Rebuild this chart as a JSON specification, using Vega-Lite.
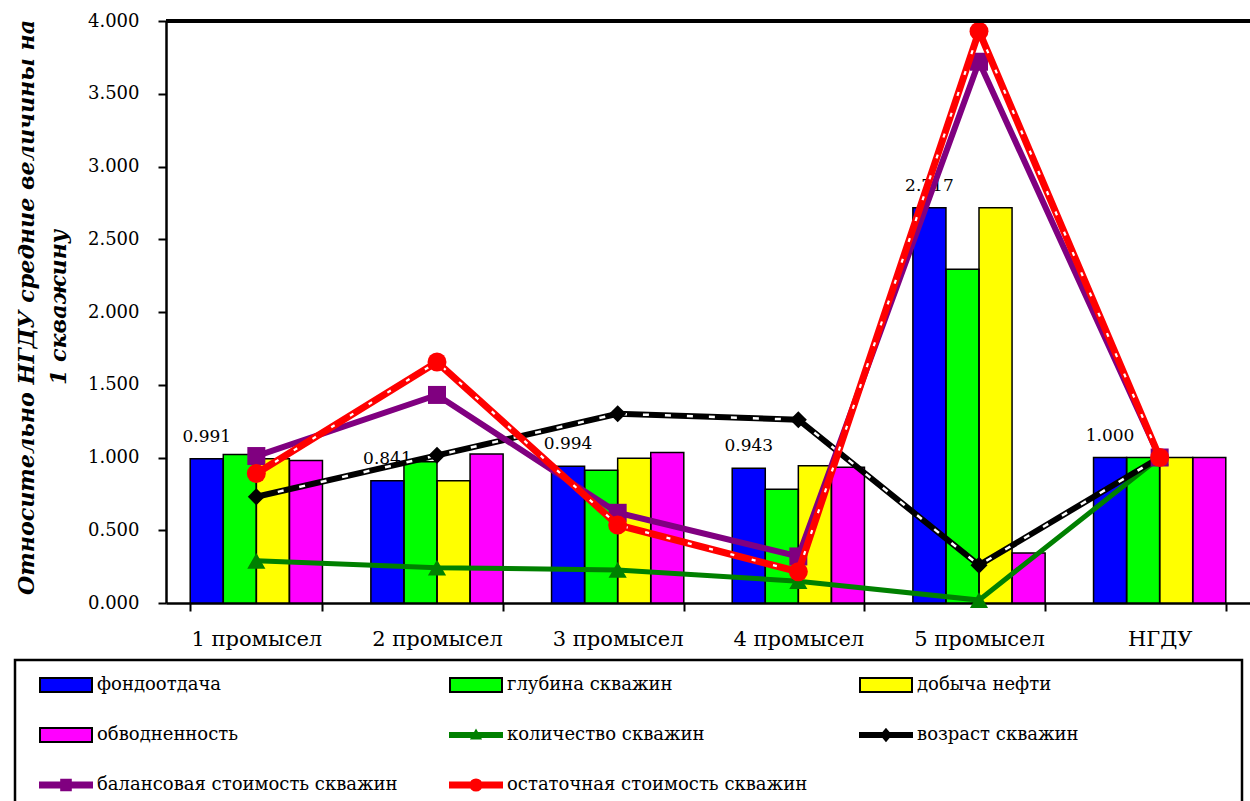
{
  "$schema": "https://vega.github.io/schema/vega-lite/v6.json",
  "width": 1084,
  "height": 582,
  "autosize": {"type": "none"},
  "padding": {"left": 166, "top": 21, "right": 0, "bottom": 198},
  "background": "white",
  "config": {
    "view": {"stroke": null},
    "font": "DejaVu Serif",
    "axisX": {
      "title": null,
      "labelFont": "DejaVu Serif",
      "labelFontSize": 21,
      "labelColor": "black",
      "labelAngle": 0,
      "labelPadding": 17,
      "tickBand": "extent",
      "tickSize": 8,
      "tickWidth": 2,
      "tickColor": "black",
      "domainColor": "black",
      "domainWidth": 2.5,
      "grid": false
    },
    "axisY": {
      "labelFont": "DejaVu Serif",
      "labelFontSize": 18,
      "labelColor": "black",
      "labelPadding": 19,
      "tickSize": 8,
      "tickWidth": 2,
      "tickColor": "black",
      "domainColor": "black",
      "domainWidth": 2.5,
      "grid": false
    },
    "legend": {
      "orient": "none",
      "legendX": -151,
      "legendY": 639,
      "direction": "horizontal",
      "columns": 3,
      "gridAlign": "all",
      "columnPadding": 35,
      "rowPadding": 28,
      "padding": 16,
      "strokeColor": "black",
      "strokeWidth": 2.5,
      "fillColor": "white",
      "symbolSize": 256,
      "symbolStrokeWidth": 2,
      "symbolOpacity": 1,
      "labelFont": "DejaVu Serif",
      "labelFontSize": 18,
      "labelColor": "black",
      "labelOffset": 48,
      "labelLimit": 500
    }
  },
  "data": {
    "values": [
      {"cat": "1 промысел", "series": "фондоотдача", "value": 0.991, "label": "0.991"},
      {"cat": "1 промысел", "series": "глубина скважин", "value": 1.02},
      {"cat": "1 промысел", "series": "добыча нефти", "value": 0.991},
      {"cat": "1 промысел", "series": "обводненность", "value": 0.98},
      {"cat": "1 промысел", "series": "количество скважин", "value": 0.29},
      {"cat": "1 промысел", "series": "возраст скважин", "value": 0.73},
      {"cat": "1 промысел", "series": "балансовая стоимость скважин", "value": 1.01},
      {"cat": "1 промысел", "series": "остаточная стоимость скважин", "value": 0.89},

      {"cat": "2 промысел", "series": "фондоотдача", "value": 0.841, "label": "0.841"},
      {"cat": "2 промысел", "series": "глубина скважин", "value": 0.97},
      {"cat": "2 промысел", "series": "добыча нефти", "value": 0.841},
      {"cat": "2 промысел", "series": "обводненность", "value": 1.024},
      {"cat": "2 промысел", "series": "количество скважин", "value": 0.243},
      {"cat": "2 промысел", "series": "возраст скважин", "value": 1.015},
      {"cat": "2 промысел", "series": "балансовая стоимость скважин", "value": 1.43},
      {"cat": "2 промысел", "series": "остаточная стоимость скважин", "value": 1.656},

      {"cat": "3 промысел", "series": "фондоотдача", "value": 0.94, "label": "0.994"},
      {"cat": "3 промысел", "series": "глубина скважин", "value": 0.913},
      {"cat": "3 промысел", "series": "добыча нефти", "value": 0.994},
      {"cat": "3 промысел", "series": "обводненность", "value": 1.035},
      {"cat": "3 промысел", "series": "количество скважин", "value": 0.227},
      {"cat": "3 промысел", "series": "возраст скважин", "value": 1.3},
      {"cat": "3 промысел", "series": "балансовая стоимость скважин", "value": 0.62},
      {"cat": "3 промысел", "series": "остаточная стоимость скважин", "value": 0.536},

      {"cat": "4 промысел", "series": "фондоотдача", "value": 0.926, "label": "0.943"},
      {"cat": "4 промысел", "series": "глубина скважин", "value": 0.781},
      {"cat": "4 промысел", "series": "добыча нефти", "value": 0.943},
      {"cat": "4 промысел", "series": "обводненность", "value": 0.933},
      {"cat": "4 промысел", "series": "количество скважин", "value": 0.15},
      {"cat": "4 промысел", "series": "возраст скважин", "value": 1.26},
      {"cat": "4 промысел", "series": "балансовая стоимость скважин", "value": 0.32},
      {"cat": "4 промысел", "series": "остаточная стоимость скважин", "value": 0.215},

      {"cat": "5 промысел", "series": "фондоотдача", "value": 2.717, "label": "2.717"},
      {"cat": "5 промысел", "series": "глубина скважин", "value": 2.293},
      {"cat": "5 промысел", "series": "добыча нефти", "value": 2.717},
      {"cat": "5 промысел", "series": "обводненность", "value": 0.343},
      {"cat": "5 промысел", "series": "количество скважин", "value": 0.02},
      {"cat": "5 промысел", "series": "возраст скважин", "value": 0.26},
      {"cat": "5 промысел", "series": "балансовая стоимость скважин", "value": 3.72},
      {"cat": "5 промысел", "series": "остаточная стоимость скважин", "value": 3.93},

      {"cat": "НГДУ", "series": "фондоотдача", "value": 1.0, "label": "1.000"},
      {"cat": "НГДУ", "series": "глубина скважин", "value": 1.0},
      {"cat": "НГДУ", "series": "добыча нефти", "value": 1.0},
      {"cat": "НГДУ", "series": "обводненность", "value": 1.0},
      {"cat": "НГДУ", "series": "количество скважин", "value": 1.0},
      {"cat": "НГДУ", "series": "возраст скважин", "value": 1.0},
      {"cat": "НГДУ", "series": "балансовая стоимость скважин", "value": 1.0},
      {"cat": "НГДУ", "series": "остаточная стоимость скважин", "value": 1.0}
    ]
  },
  "encoding": {
    "y": {
      "field": "value",
      "type": "quantitative",
      "scale": {"domain": [0, 4], "nice": false, "zero": true},
      "title": ["Относительно  НГДУ средние величины  на", "1 скважину"],
      "axis": {
        "values": [0, 0.5, 1, 1.5, 2, 2.5, 3, 3.5, 4],
        "format": ".3f",
        "titleFont": "DejaVu Serif",
        "titleFontSize": 22.2,
        "titleFontWeight": "bold",
        "titleFontStyle": "italic",
        "titleColor": "black",
        "titleAngle": 270,
        "titleAlign": "center",
        "titleBaseline": "alphabetic",
        "titleLineHeight": 32,
        "titleX": -133,
        "titleY": 286
      }
    }
  },
  "layer": [
    {
      "transform": [{"filter": {"field": "series", "oneOf": ["фондоотдача", "глубина скважин", "добыча нефти", "обводненность"]}}],
      "mark": {"type": "bar"},
      "encoding": {
        "x": {"field": "cat", "type": "nominal", "sort": null, "title": null,
              "scale": {"paddingInner": 0.268, "paddingOuter": 0.134}},
        "xOffset": {"field": "series", "type": "nominal",
                    "scale": {"domain": ["фондоотдача", "глубина скважин", "добыча нефти", "обводненность"], "paddingInner": 0, "paddingOuter": 0}},
        "color": {
          "field": "series",
          "type": "nominal",
          "scale": {
            "domain": ["фондоотдача", "глубина скважин", "добыча нефти", "обводненность", "количество скважин", "возраст скважин", "балансовая стоимость скважин", "остаточная стоимость скважин"],
            "range": ["#0000FF", "#00FF00", "#FFFF00", "#FF00FF", "#008000", "#000000", "#800080", "#FF0000"]
          },
          "legend": {"title": null}
        }
      }
    },
    {
      "transform": [{"filter": {"field": "series", "oneOf": ["фондоотдача", "глубина скважин", "добыча нефти", "обводненность"]}}],
      "mark": {"type": "bar", "fill": "transparent", "stroke": "black", "strokeWidth": 1.5},
      "encoding": {
        "x": {"field": "cat", "type": "nominal", "sort": null, "title": null},
        "xOffset": {"field": "series", "type": "nominal"}
      }
    },
    {
      "transform": [{"filter": {"field": "series", "equal": "фондоотдача"}}],
      "mark": {"type": "text", "font": "DejaVu Serif", "fontSize": 17, "color": "black", "baseline": "middle", "align": "center", "dy": -22},
      "encoding": {
        "x": {"field": "cat", "type": "nominal", "sort": null, "title": null},
        "xOffset": {"field": "series", "type": "nominal"},
        "text": {"field": "label"}
      }
    },
    {
      "transform": [{"filter": {"field": "series", "equal": "количество скважин"}}],
      "mark": {"type": "line", "color": "#008000", "strokeWidth": 5},
      "encoding": {"x": {"field": "cat", "type": "nominal", "sort": null, "title": null}}
    },
    {
      "transform": [{"filter": {"field": "series", "equal": "количество скважин"}}],
      "mark": {"type": "point", "shape": "triangle-up", "size": 330, "filled": true, "color": "#008000", "opacity": 1},
      "encoding": {"x": {"field": "cat", "type": "nominal", "sort": null, "title": null}}
    },
    {
      "transform": [{"filter": {"field": "series", "equal": "возраст скважин"}}],
      "mark": {"type": "line", "color": "#000000", "strokeWidth": 6},
      "encoding": {"x": {"field": "cat", "type": "nominal", "sort": null, "title": null}}
    },
    {
      "transform": [{"filter": {"field": "series", "equal": "возраст скважин"}}],
      "mark": {"type": "line", "color": "#FFFFFF", "strokeWidth": 2.5, "strokeDash": [6, 16]},
      "encoding": {"x": {"field": "cat", "type": "nominal", "sort": null, "title": null}}
    },
    {
      "transform": [{"filter": {"field": "series", "equal": "возраст скважин"}}],
      "mark": {"type": "point", "shape": "diamond", "size": 290, "filled": true, "color": "#000000", "opacity": 1},
      "encoding": {"x": {"field": "cat", "type": "nominal", "sort": null, "title": null}}
    },
    {
      "transform": [{"filter": {"field": "series", "equal": "балансовая стоимость скважин"}}],
      "mark": {"type": "line", "color": "#800080", "strokeWidth": 6},
      "encoding": {"x": {"field": "cat", "type": "nominal", "sort": null, "title": null}}
    },
    {
      "transform": [{"filter": {"field": "series", "equal": "балансовая стоимость скважин"}}],
      "mark": {"type": "point", "shape": "square", "size": 324, "filled": true, "color": "#800080", "opacity": 1},
      "encoding": {"x": {"field": "cat", "type": "nominal", "sort": null, "title": null}}
    },
    {
      "transform": [{"filter": {"field": "series", "equal": "остаточная стоимость скважин"}}],
      "mark": {"type": "line", "color": "#FF0000", "strokeWidth": 7},
      "encoding": {"x": {"field": "cat", "type": "nominal", "sort": null, "title": null}}
    },
    {
      "transform": [{"filter": {"field": "series", "equal": "остаточная стоимость скважин"}}],
      "mark": {"type": "line", "color": "#FFFFFF", "strokeWidth": 2.2, "strokeDash": [4, 18]},
      "encoding": {"x": {"field": "cat", "type": "nominal", "sort": null, "title": null}}
    },
    {
      "transform": [{"filter": {"field": "series", "equal": "остаточная стоимость скважин"}}],
      "mark": {"type": "point", "shape": "circle", "size": 360, "filled": true, "color": "#FF0000", "opacity": 1},
      "encoding": {"x": {"field": "cat", "type": "nominal", "sort": null, "title": null}}
    },
    {
      "transform": [{"filter": "false"}],
      "mark": {"type": "point", "filled": true, "opacity": 1},
      "encoding": {
        "x": {"field": "cat", "type": "nominal", "sort": null, "title": null},
        "color": {
          "field": "series",
          "type": "nominal",
          "scale": {
            "domain": ["фондоотдача", "глубина скважин", "добыча нефти", "обводненность", "количество скважин", "возраст скважин", "балансовая стоимость скважин", "остаточная стоимость скважин"],
            "range": ["#0000FF", "#00FF00", "#FFFF00", "#FF00FF", "#008000", "#000000", "#800080", "#FF0000"]
          },
          "legend": {"title": null}
        },
        "stroke": {
          "field": "series",
          "type": "nominal",
          "scale": {
            "domain": ["фондоотдача", "глубина скважин", "добыча нефти", "обводненность", "количество скважин", "возраст скважин", "балансовая стоимость скважин", "остаточная стоимость скважин"],
            "range": ["#000000", "#000000", "#000000", "#000000", "#008000", "#000000", "#800080", "#FF0000"]
          },
          "legend": {"title": null}
        },
        "shape": {
          "field": "series",
          "type": "nominal",
          "scale": {
            "domain": ["фондоотдача", "глубина скважин", "добыча нефти", "обводненность", "количество скважин", "возраст скважин", "балансовая стоимость скважин", "остаточная стоимость скважин"],
            "range": [
              "M0,-0.875H6.5V0.875H0Z",
              "M0,-0.875H6.5V0.875H0Z",
              "M0,-0.875H6.5V0.875H0Z M45.2,0",
              "M0,-0.875H6.5V0.875H0Z",
              "M0,-0.25H6.5V0.25H0Z M3.25,-0.55L3.8,0.45H2.7Z",
              "M0,-0.25H6.5V0.25H0Z M3.25,-0.7L3.85,0L3.25,0.7L2.65,0Z M45.2,0",
              "M0,-0.3H6.5V0.3H0Z M2.65,-0.65H3.85V0.65H2.65Z",
              "M0,-0.3H6.5V0.3H0Z M2.55,0A0.7,0.7 0 1,1 3.95,0A0.7,0.7 0 1,1 2.55,0Z"
            ]
          },
          "legend": {"title": null}
        }
      }
    },
    {
      "mark": {"type": "rule", "color": "black", "strokeWidth": 2.5},
      "encoding": {"y": {"datum": 4}}
    }
  ]
}
